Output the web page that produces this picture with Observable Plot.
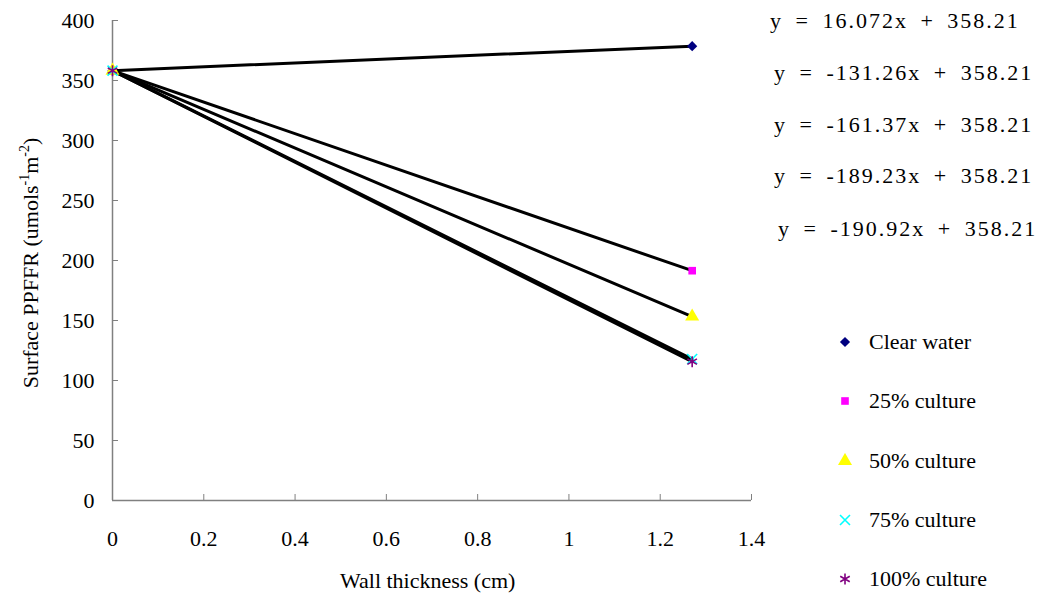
<!DOCTYPE html>
<html>
<head>
<meta charset="utf-8">
<script src="https://cdn.jsdelivr.net/npm/d3@7"></script>
<script src="https://cdn.jsdelivr.net/npm/@observablehq/plot@0.6"></script>
<style>
  html, body { margin: 0; padding: 0; background: #fff; }
  #wrap { position: relative; width: 1046px; height: 601px; overflow: hidden; color: #000; font-family: 'Liberation Serif', serif; }
  .eq { position: absolute; font-size: 22px; white-space: pre; letter-spacing: 2px; word-spacing: 5px; line-height: 1; }
  .leg { position: absolute; font-size: 22px; white-space: pre; line-height: 1; }
  .legsym { position: absolute; }
  #ylab { position: absolute; font-size: 22px; white-space: nowrap; transform: translate(-50%, -50%) rotate(-90deg); left: 31px; top: 263px; line-height: 1; }
  #ylab sup { font-size: 14px; vertical-align: 9px; line-height: 0; }
</style>
</head>
<body>
<div id="wrap"></div>
<script>
// ---- data ----
const series = ["Clear water", "25% culture", "50% culture", "75% culture", "100% culture"];
const thickness = [0, 1.27];
const ppffrAt0 = [358.21, 358.21, 358.21, 358.21, 358.21];
const ppffrAt127 = [378.6, 191.5, 153.3, 117.9, 115.7];
const equations = [
  "y = 16.072x + 358.21",
  "y = -131.26x + 358.21",
  "y = -161.37x + 358.21",
  "y = -189.23x + 358.21",
  "y = -190.92x + 358.21"
];
const symbols = ["diamond2", "square", "triangle", "times", "asterisk"];
const colors = ["#000080", "#FF00FF", "#FFFF00", "#00FFFF", "#800080"];
const xTicks = [0, 0.2, 0.4, 0.6, 0.8, 1, 1.2, 1.4];
const yTicks = [0, 50, 100, 150, 200, 250, 300, 350, 400];

const FONT = "'Liberation Serif', serif";

const rows = [];
series.forEach((s, i) => {
  rows.push({series: s, x: thickness[0], y: ppffrAt0[i], i});
  rows.push({series: s, x: thickness[1], y: ppffrAt127[i], i});
});

const filled = [true, true, true, false, false];
const sizes = [4.6, 4.3, 5.2, 4.6, 5.2];
const dotMarks = series.map((s, i) => Plot.dot(rows.filter(d => d.i === i), {
  x: "x", y: "y", symbol: () => symbols[i], r: sizes[i],
  fill: filled[i] ? colors[i] : "none",
  stroke: filled[i] ? "none" : colors[i],
  strokeWidth: filled[i] ? 0 : 1.6
}));

const chart = Plot.plot({
  width: 1046, height: 601,
  marginLeft: 112, marginRight: 295, marginTop: 20, marginBottom: 101,
  x: {domain: [0, 1.4]},
  y: {domain: [0, 400]},
  symbol: {type: "identity"},
  style: {fontFamily: FONT, fontSize: "22px", color: "#000", background: "transparent"},
  marks: [
    Plot.ruleY([0], {stroke: "#808080", strokeWidth: 1.5}),
    Plot.ruleX([0], {stroke: "#808080", strokeWidth: 1.5}),
    Plot.axisX(xTicks, {tickSize: -6, stroke: "#808080", tickFormat: () => "", label: null}),
    Plot.axisY(yTicks, {tickSize: -6, stroke: "#808080", tickFormat: () => "", label: null}),
    Plot.axisX(xTicks, {tickSize: 0, tickPadding: 30, tickFormat: d => String(d), label: null, fontSize: 22, fill: "#000"}),
    Plot.axisY(yTicks, {tickSize: 0, tickPadding: 18, tickFormat: d => String(d), label: null, fontSize: 22, fill: "#000"}),
    Plot.line(rows, {x: "x", y: "y", z: "series", stroke: "#000", strokeWidth: 3}),
    ...dotMarks
  ]
});
chart.style.position = "absolute";
chart.style.left = "0px";
chart.style.top = "0px";
const wrap = document.getElementById("wrap");
wrap.appendChild(chart);

function addDiv(cls, text, left, top, html) {
  const d = document.createElement("div");
  d.className = cls;
  if (html) d.innerHTML = text; else d.textContent = text;
  if (left != null) d.style.left = left + "px";
  if (top != null) d.style.top = top + "px";
  wrap.appendChild(d);
  return d;
}

// x axis title
addDiv("leg", "Wall thickness (cm)", 340, 570);

// y axis title
const yl = addDiv("", "Surface PPFFR (umols<sup>-1</sup>m<sup>-2</sup>)", null, null, true);
yl.id = "ylab";

// equations
const eqLeft = [770, 774, 774, 774, 778];
const eqTop = [10, 62, 114, 165, 218];
equations.forEach((e, i) => addDiv("eq", e, eqLeft[i], eqTop[i]));

// legend
const legY = [342, 401, 461, 520, 579];
const shapes = {
  diamond2: d3.symbolDiamond2, square: d3.symbolSquare, triangle: d3.symbolTriangle,
  times: d3.symbolTimes, asterisk: d3.symbolAsterisk
};
series.forEach((s, i) => {
  const svg = d3.create("svg").attr("width", 16).attr("height", 16).attr("class", "legsym")
    .style("left", "837px").style("top", (legY[i] - 8) + "px");
  const r = sizes[i];
  svg.append("path")
    .attr("transform", "translate(8,8)")
    .attr("d", d3.symbol(shapes[symbols[i]], r * r * Math.PI)())
    .attr("fill", filled[i] ? colors[i] : "none")
    .attr("stroke", filled[i] ? "none" : colors[i])
    .attr("stroke-width", 1.6);
  wrap.appendChild(svg.node());
  addDiv("leg", s, 869, legY[i] - 11);
});
</script>
</body>
</html>
